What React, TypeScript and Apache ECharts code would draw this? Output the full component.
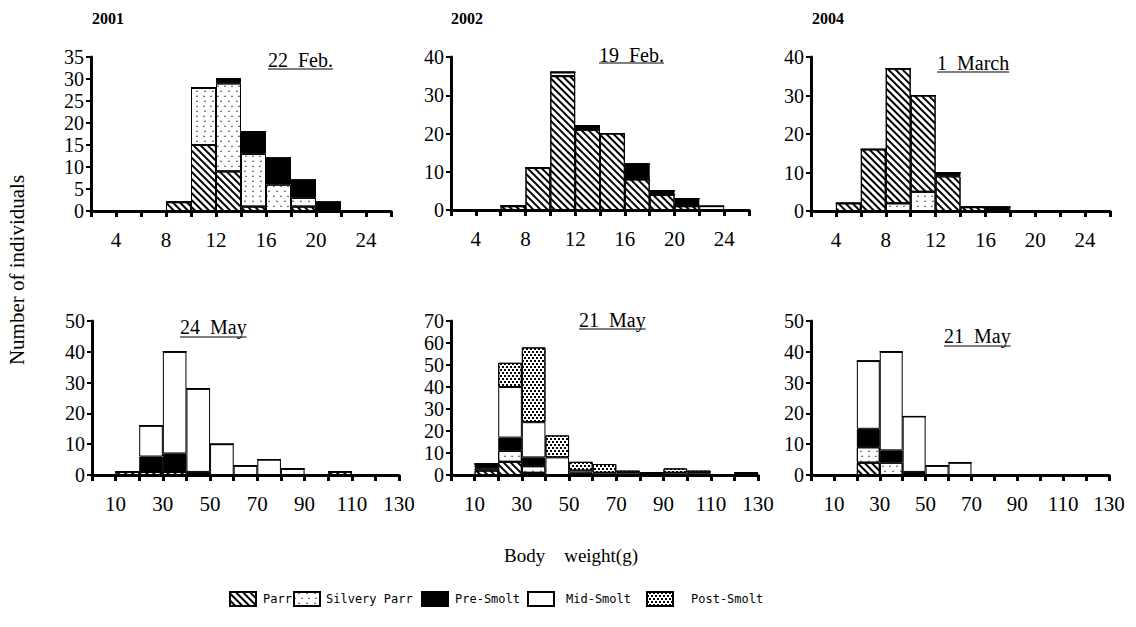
import React, { useEffect, useRef } from 'react';
import * as echarts from 'echarts';

const STAGES = ['Parr', 'Silvery Parr', 'Pre-Smolt', 'Mid-Smolt', 'Post-Smolt'];

// Bin left edges
const winterBins = [2, 4, 6, 8, 10, 12, 14, 16, 18, 20, 22, 24];
const mayBins = [0, 10, 20, 30, 40, 50, 60, 70, 80, 90, 100, 110, 120];

// 2001, 22 Feb.
const feb2001Parr = [0, 0, 0, 2, 15, 9, 1, 0, 1, 0, 0, 0];
const feb2001Silvery = [0, 0, 0, 0, 13, 20, 12, 6, 2, 0, 0, 0];
const feb2001Pre = [0, 0, 0, 0, 0, 1, 5, 6, 4, 2, 0, 0];
const feb2001Mid = [0, 0, 0, 0, 0, 0, 0, 0, 0, 0, 0, 0];
const feb2001Post = [0, 0, 0, 0, 0, 0, 0, 0, 0, 0, 0, 0];

// 2002, 19 Feb.
const feb2002Parr = [0, 0, 1, 11, 35, 21, 20, 8, 4, 1, 0, 0];
const feb2002Silvery = [0, 0, 0, 0, 1, 0, 0, 0, 0, 0, 0, 0];
const feb2002Pre = [0, 0, 0, 0, 0, 1, 0, 4, 1, 2, 0, 0];
const feb2002Mid = [0, 0, 0, 0, 0, 0, 0, 0, 0, 0, 1, 0];
const feb2002Post = [0, 0, 0, 0, 0, 0, 0, 0, 0, 0, 0, 0];

// 2004, 1 March
const mar2004Parr = [0, 2, 16, 35, 25, 9, 1, 0, 0, 0, 0, 0];
const mar2004Silvery = [0, 0, 0, 2, 5, 0, 0, 0, 0, 0, 0, 0];
const mar2004Pre = [0, 0, 0, 0, 0, 1, 0, 1, 0, 0, 0, 0];
const mar2004Mid = [0, 0, 0, 0, 0, 0, 0, 0, 0, 0, 0, 0];
const mar2004Post = [0, 0, 0, 0, 0, 0, 0, 0, 0, 0, 0, 0];

// 2001, 24 May
const may2001Parr = [0, 1, 1, 1, 0, 0, 0, 0, 0, 0, 1, 0, 0];
const may2001Silvery = [0, 0, 0, 0, 0, 0, 0, 0, 0, 0, 0, 0, 0];
const may2001Pre = [0, 0, 5, 6, 1, 0, 0, 0, 0, 0, 0, 0, 0];
const may2001Mid = [0, 0, 10, 33, 27, 10, 3, 5, 2, 0, 0, 0, 0];
const may2001Post = [0, 0, 0, 0, 0, 0, 0, 0, 0, 0, 0, 0, 0];

// 2002, 21 May
const may2002Parr = [0, 2, 6, 1, 0, 0, 0, 0, 0, 0, 0, 0, 0];
const may2002Silvery = [0, 1, 5, 3, 0, 0, 0, 0, 0, 0, 0, 0, 0];
const may2002Pre = [0, 2, 6, 4, 0, 1, 0, 0, 1, 0, 0, 0, 1];
const may2002Mid = [0, 0, 23, 16, 8, 1, 1, 1, 0, 1, 1, 0, 0];
const may2002Post = [0, 0, 11, 34, 10, 4, 4, 1, 0, 2, 1, 0, 0];

// 2004, 21 May
const may2004Parr = [0, 0, 4, 0, 0, 0, 0, 0, 0, 0, 0, 0, 0];
const may2004Silvery = [0, 0, 5, 4, 0, 0, 0, 0, 0, 0, 0, 0, 0];
const may2004Pre = [0, 0, 6, 4, 1, 0, 0, 0, 0, 0, 0, 0, 0];
const may2004Mid = [0, 0, 22, 32, 18, 3, 4, 0, 0, 0, 0, 0, 0];
const may2004Post = [0, 0, 0, 0, 0, 0, 0, 0, 0, 0, 0, 0, 0];

const yearLabels = ['2001', '2002', '2004'];
const dateLabels = ['22  Feb.', '19  Feb.', '1  March', '24  May', '21  May', '21  May'];

// stacking order (bottom to top) of stage indices per panel
const defaultOrder = [0, 1, 2, 3, 4];
const march2004Order = [1, 0, 2, 3, 4];

const panelData = [
  { bins: winterBins, binWidth: 2, xMin: 2, xMax: 26, yMax: 35, yInterval: 5, order: defaultOrder, values: [feb2001Parr, feb2001Silvery, feb2001Pre, feb2001Mid, feb2001Post] },
  { bins: winterBins, binWidth: 2, xMin: 2, xMax: 26, yMax: 40, yInterval: 10, order: defaultOrder, values: [feb2002Parr, feb2002Silvery, feb2002Pre, feb2002Mid, feb2002Post] },
  { bins: winterBins, binWidth: 2, xMin: 2, xMax: 26, yMax: 40, yInterval: 10, order: march2004Order, values: [mar2004Parr, mar2004Silvery, mar2004Pre, mar2004Mid, mar2004Post] },
  { bins: mayBins, binWidth: 10, xMin: 0, xMax: 130, yMax: 50, yInterval: 10, order: defaultOrder, values: [may2001Parr, may2001Silvery, may2001Pre, may2001Mid, may2001Post] },
  { bins: mayBins, binWidth: 10, xMin: 0, xMax: 130, yMax: 70, yInterval: 10, order: defaultOrder, values: [may2002Parr, may2002Silvery, may2002Pre, may2002Mid, may2002Post] },
  { bins: mayBins, binWidth: 10, xMin: 0, xMax: 130, yMax: 50, yInterval: 10, order: defaultOrder, values: [may2004Parr, may2004Silvery, may2004Pre, may2004Mid, may2004Post] },
];

// Layout (pixels)
const gridLayout = [
  { left: 91, top: 57, width: 300, height: 154 },
  { left: 451, top: 57, width: 298, height: 153 },
  { left: 811, top: 57, width: 299, height: 154 },
  { left: 92, top: 321, width: 307, height: 154 },
  { left: 451, top: 321, width: 307, height: 154 },
  { left: 811, top: 321, width: 298, height: 154 },
];
const yearPos = [{ x: 92, y: 18 }, { x: 451, y: 18 }, { x: 812, y: 18 }];
const datePos = [
  { x: 268, y: 60, uy: 69 },
  { x: 599, y: 55, uy: 63 },
  { x: 937, y: 63, uy: 72 },
  { x: 180, y: 327, uy: 337 },
  { x: 579, y: 320, uy: 329 },
  { x: 944, y: 336, uy: 346 },
];
const legendPos = [
  { left: 229, pad: 2 },
  { left: 293, pad: 1 },
  { left: 421, pad: 2 },
  { left: 527, pad: 7 },
  { left: 646, pad: 13 },
];

const SERIF = '"Liberation Serif", "Times New Roman", serif';
const MONO = '"DejaVu Sans Mono", "Liberation Mono", monospace';

const stageStyles: any[] = [
  {
    color: '#fff',
    decal: { symbol: 'rect', symbolSize: 1, dashArrayX: [1, 0], dashArrayY: [1.3, 2.7], rotation: Math.PI / 4, color: '#000', backgroundColor: '#fff' },
  },
  {
    color: '#fff',
    decal: { symbol: 'triangle', symbolSize: 0.9, dashArrayX: [[2, 5], [0, 3.5, 2, 1.5]], dashArrayY: [2, 3], color: '#333', backgroundColor: '#fff' },
  },
  { color: '#000' },
  { color: '#fff' },
  {
    color: '#fff',
    decal: { symbol: 'rect', symbolSize: 1, dashArrayX: [[2, 2], [0, 2, 2, 0]], dashArrayY: [2, 1], color: '#000', backgroundColor: '#fff' },
  },
];

function measure(text: string, font: string): number {
  const c = document.createElement('canvas');
  const ctx = c.getContext('2d')!;
  ctx.font = font;
  return ctx.measureText(text).width;
}

export default function App() {
  const ref = useRef<HTMLDivElement>(null);
  useEffect(() => {
    if (!ref.current) return;
    const chart = echarts.init(ref.current, undefined, { renderer: 'svg' });

    const grids = gridLayout.map((g) => ({ ...g, containLabel: false }));
    const xAxes: any[] = [];
    panelData.forEach((p, i) => {
      // hidden category axis carrying the bins (for stacking)
      xAxes.push({
        type: 'category',
        gridIndex: i,
        position: 'top',
        data: p.bins.map(String),
        boundaryGap: true,
        show: false,
      });
      // visible value axis carrying ticks and labels at bin edges
      xAxes.push({
        type: 'value',
        gridIndex: i,
        position: 'bottom',
        min: p.xMin,
        max: p.xMax,
        interval: p.binWidth,
        splitLine: { show: false },
        axisLine: { show: true, onZero: false, lineStyle: { color: '#000', width: 3 } },
        axisTick: { show: true, length: 6, lineStyle: { color: '#000', width: 3 } },
        axisLabel: {
          color: '#000',
          fontFamily: SERIF,
          fontSize: 21,
          margin: 18,
          showMinLabel: true,
          showMaxLabel: true,
          formatter: (v: number) => {
            if (p.binWidth === 2) return v % 4 === 0 && v >= 4 && v <= 24 ? String(v) : '';
            return v % 20 === 10 ? String(v) : '';
          },
        },
      });
    });
    const yAxes = panelData.map((p, i) => ({
      type: 'value',
      gridIndex: i,
      min: 0,
      max: p.yMax,
      interval: p.yInterval,
      splitLine: { show: false },
      axisLine: { show: true, lineStyle: { color: '#000', width: 3 } },
      axisTick: { show: true, length: 5, lineStyle: { color: '#000', width: 2 } },
      axisLabel: { color: '#000', fontFamily: SERIF, fontSize: 20, lineHeight: 18, margin: 7 },
    }));

    const series: any[] = [];
    panelData.forEach((p, i) => {
      p.order.forEach((s) => {
        series.push({
          type: 'bar',
          name: STAGES[s],
          xAxisIndex: i * 2,
          yAxisIndex: i,
          stack: 'panel' + i,
          barCategoryGap: '0%',
          silent: true,
          z: 1,
          itemStyle: { ...stageStyles[s], borderColor: '#000', borderWidth: 1 },
          data: p.values[s],
        });
      });
    });

    const dateFont = `20px ${SERIF}`;
    const graphics: any[] = [];
    yearLabels.forEach((t, i) => {
      graphics.push({
        type: 'text',
        x: yearPos[i].x,
        y: yearPos[i].y,
        style: { text: t, fontFamily: SERIF, fontSize: 16, fontWeight: 'bold', fill: '#000', align: 'left', verticalAlign: 'middle' },
      });
    });
    dateLabels.forEach((t, i) => {
      const w = measure(t, dateFont);
      graphics.push({
        type: 'text',
        x: datePos[i].x,
        y: datePos[i].y,
        style: { text: t, fontFamily: SERIF, fontSize: 20, fill: '#000', align: 'left', verticalAlign: 'middle' },
      });
      graphics.push({
        type: 'line',
        shape: { x1: datePos[i].x, y1: datePos[i].uy, x2: datePos[i].x + w, y2: datePos[i].uy },
        style: { stroke: '#000', lineWidth: 1 },
      });
    });
    graphics.push({
      type: 'text',
      x: 17,
      y: 270,
      rotation: Math.PI / 2,
      style: { text: 'Number of individuals', fontFamily: SERIF, fontSize: 21, fill: '#000', align: 'center', verticalAlign: 'middle' },
    });
    graphics.push({
      type: 'text',
      x: 571,
      y: 555,
      style: { text: 'Body    weight(g)', fontFamily: SERIF, fontSize: 19, fill: '#000', align: 'center', verticalAlign: 'middle' },
    });

    const legends = STAGES.map((name, k) => ({
      data: [name],
      left: legendPos[k].left,
      top: 591,
      icon: 'rect',
      itemWidth: 26,
      itemHeight: 14,
      selectedMode: false,
      padding: 0,
      textStyle: { fontFamily: MONO, fontSize: 12, color: '#000', padding: [0, 0, 0, legendPos[k].pad] },
    }));

    chart.setOption({
      animation: false,
      backgroundColor: '#fff',
      grid: grids,
      xAxis: xAxes,
      yAxis: yAxes,
      series,
      legend: legends,
      graphic: graphics,
    });
    return () => chart.dispose();
  }, []);
  return <div ref={ref} style={{ position: 'fixed', left: 0, top: 0, width: 1136, height: 627 }} />;
}
